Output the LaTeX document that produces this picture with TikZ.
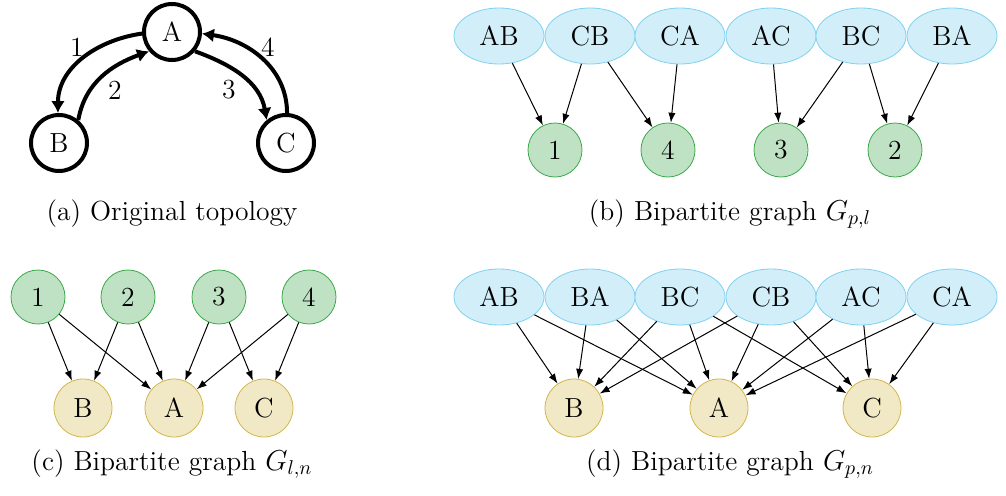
\documentclass[tikz,border=0pt]{standalone}
\usetikzlibrary{arrows.meta,shapes.geometric}
\definecolor{pathfill}{HTML}{D2EFF9}
\definecolor{pathline}{HTML}{7FD1F0}
\definecolor{linkfill}{HTML}{C0E2C4}
\definecolor{linkline}{HTML}{3BA94A}
\definecolor{hostfill}{HTML}{F1E9C6}
\definecolor{hostline}{HTML}{D3B649}
\begin{document}
\begin{tikzpicture}[x=0.5pt, y=0.5pt, >={Latex[length=5pt,width=3.6pt]},
  every node/.style={font=\fontsize{13.8}{16}\selectfont},
  topo/.style={draw, circle, line width=2pt, minimum size=28pt, inner sep=0pt},
  pnode/.style={draw=pathline, fill=pathfill, ellipse, minimum width=45pt, minimum height=28pt, inner sep=0pt},
  lnode/.style={draw=linkline, fill=linkfill, circle, minimum size=27pt, inner sep=0pt},
  hnode/.style={draw=hostline, fill=hostfill, circle, minimum size=29pt, inner sep=0pt},
  bold arrow/.style={->, line width=2pt, >={Latex[length=6pt,width=7pt]}},
  conn/.style={->, line width=0.5pt}]
  \useasboundingbox (0,0) rectangle (1006,495);
  % (a) original topology
  \node [topo] (tA) at (172,463) {A};
  \node [topo] (tB) at (59,352) {B};
  \node [topo] (tC) at (286,352) {C};
  \draw [bold arrow] (tA.183) to[out=188, in=90] (tB.92);
  \draw [bold arrow] (tB.50) to[out=80, in=200] (tA.220);
  \draw [bold arrow] (tA.320) to[out=-20, in=100] (tC.130);
  \draw [bold arrow] (tC.88) to[out=90, in=-8] (tA.357);
  \node (l1) at (77,448) {1};
  \node (l2) at (115,405) {2};
  \node (l3) at (229,405) {3};
  \node (l4) at (268,448) {4};
  \node [anchor=base] (capa) at (172,275) {(a) Original topology};
  % (b) paths -> links
  \node [pnode] (bAB) at (499,459) {AB};
  \node [pnode] (bCB) at (590,459) {CB};
  \node [pnode] (bCA) at (680,459) {CA};
  \node [pnode] (bAC) at (771,459) {AC};
  \node [pnode] (bBC) at (861,459) {BC};
  \node [pnode] (bBA) at (952,459) {BA};
  \node [lnode] (b1) at (555,345) {1};
  \node [lnode] (b4) at (668,345) {4};
  \node [lnode] (b3) at (781,345) {3};
  \node [lnode] (b2) at (895,345) {2};
  \foreach \p/\l in {AB/1, CB/1, CB/4, CA/4, AC/3, BC/3, BC/2, BA/2}
    \draw [conn] (b\p) -- (b\l);
  \node [anchor=base] (capb) at (730,275) {(b) Bipartite graph $G_{p,l}$};
  % (c) links -> nodes
  \node [lnode] (c1) at (38,198) {1};
  \node [lnode] (c2) at (128,198) {2};
  \node [lnode] (c3) at (219,198) {3};
  \node [lnode] (c4) at (309,198) {4};
  \node [hnode] (cB) at (83,87) {B};
  \node [hnode] (cA) at (174,87) {A};
  \node [hnode] (cC) at (264,87) {C};
  \foreach \l/\n in {1/B, 1/A, 2/B, 2/A, 3/A, 3/C, 4/A, 4/C}
    \draw [conn] (c\l) -- (c\n);
  \node [anchor=base] (capc) at (172,25) {(c) Bipartite graph $G_{l,n}$};
  % (d) paths -> nodes
  \node [pnode] (dAB) at (499,198) {AB};
  \node [pnode] (dBA) at (590,198) {BA};
  \node [pnode] (dBC) at (680,198) {BC};
  \node [pnode] (dCB) at (771,198) {CB};
  \node [pnode] (dAC) at (861,198) {AC};
  \node [pnode] (dCA) at (952,198) {CA};
  \node [hnode] (dB) at (574,87) {B};
  \node [hnode] (dA) at (719,87) {A};
  \node [hnode] (dC) at (872,87) {C};
  \foreach \p/\n in {AB/B, AB/A, BA/B, BA/A, BC/B, BC/A, BC/C, CB/B, CB/A, CB/C, AC/A, AC/C, CA/A, CA/C}
    \draw [conn] (d\p) -- (d\n);
  \node [anchor=base] (capd) at (730,25) {(d) Bipartite graph $G_{p,n}$};
\end{tikzpicture}
\end{document}
